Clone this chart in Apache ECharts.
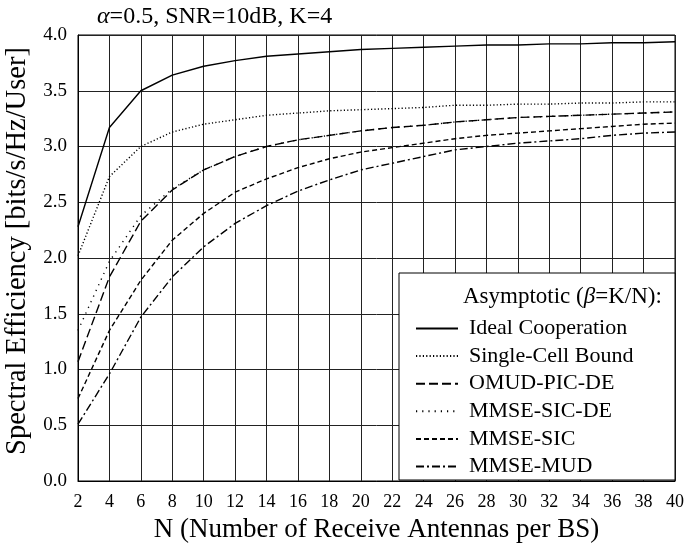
<!DOCTYPE html>
<html>
<head>
<meta charset="utf-8">
<script src="https://cdn.jsdelivr.net/npm/echarts@6/dist/echarts.min.js"></script>
<style>
html,body{margin:0;padding:0;background:#fff;}
#chart{width:685px;height:546px;}
</style>
</head>
<body>
<div id="chart"></div>
<script>
// ---- data ----
const N = [2,4,6,8,10,12,14,16,18,20,22,24,26,28,30,32,34,36,38,40];
const idealCoop   = [2.28,3.17,3.50,3.64,3.72,3.77,3.81,3.83,3.85,3.87,3.88,3.89,3.90,3.91,3.91,3.92,3.92,3.93,3.93,3.94];
const singleCell  = [2.02,2.73,3.00,3.13,3.20,3.24,3.28,3.30,3.32,3.33,3.34,3.35,3.37,3.37,3.38,3.38,3.39,3.39,3.40,3.40];
const omudPicDe   = [1.07,1.83,2.33,2.61,2.79,2.91,3.00,3.06,3.10,3.14,3.17,3.19,3.22,3.24,3.26,3.27,3.28,3.29,3.30,3.31];
const mmseSicDe   = [1.35,1.97,2.38,2.62,2.79,2.91,3.00,3.06,3.10,3.14,3.17,3.19,3.22,3.24,3.26,3.27,3.28,3.29,3.30,3.31];
const mmseSic     = [0.74,1.35,1.80,2.16,2.40,2.59,2.71,2.81,2.89,2.95,2.99,3.03,3.07,3.10,3.12,3.14,3.16,3.18,3.20,3.21];
const mmseMud     = [0.51,0.96,1.47,1.83,2.10,2.31,2.47,2.60,2.70,2.79,2.85,2.91,2.97,3.00,3.03,3.05,3.07,3.10,3.12,3.13];
const seriesNames = ['Ideal Cooperation','Single-Cell Bound','OMUD-PIC-DE','MMSE-SIC-DE','MMSE-SIC','MMSE-MUD'];
const yTicks = ['0.0','0.5','1.0','1.5','2.0','2.5','3.0','3.5','4.0'];

const FONT = '"Liberation Serif","Times New Roman",serif';
const dashes = ['solid',[1.2,2.2],[9,4],[1.2,5],[5,3],[8,3,2,3]];
const values = [idealCoop,singleCell,omudPicDe,mmseSicDe,mmseSic,mmseMud];

const chart = echarts.init(document.getElementById('chart'));
const gridL = 78, gridR = 10, gridT = 35, gridB = 65;

chart.setOption({
  backgroundColor: '#fff',
  animation: false,
  title: {
    text: '{a|α}=0.5, SNR=10dB, K=4',
    left: 92, top: 0,
    textStyle: {
      fontFamily: FONT, fontSize: 24, fontWeight: 'normal', color: '#000',
      rich: { a: { fontFamily: FONT, fontSize: 24, fontStyle: 'italic', color: '#000' } }
    }
  },
  grid: { left: gridL, right: gridR, top: gridT, bottom: gridB, show: true,
    borderColor: '#000', borderWidth: 1, containLabel: false, outerBoundsMode: 'none' },
  xAxis: {
    type: 'value', min: 2, max: 40, interval: 2,
    name: 'N (Number of Receive Antennas per BS)',
    nameLocation: 'middle', nameGap: 35,
    nameTextStyle: { fontFamily: FONT, fontSize: 27, color: '#000' },
    axisLine: { lineStyle: { color: '#000' } },
    axisTick: { show: false },
    axisLabel: { fontFamily: FONT, fontSize: 18, color: '#000', margin: 12 },
    splitLine: { show: true, lineStyle: { color: '#222', width: 1 } }
  },
  yAxis: {
    type: 'value', min: 0, max: 4, interval: 0.5,
    name: 'Spectral Efficiency [bits/s/Hz/User]',
    nameLocation: 'middle', nameGap: 46,
    nameTextStyle: { fontFamily: FONT, fontSize: 28.5, color: '#000', padding: [0, 0, 0, 14] },
    axisLine: { show: true, lineStyle: { color: '#000' } },
    axisTick: { show: false },
    axisLabel: { fontFamily: FONT, fontSize: 19, color: '#000', margin: 11,
      formatter: v => yTicks[Math.round(v * 2)] },
    splitLine: { show: true, lineStyle: { color: '#222', width: 1 } }
  },
  legend: {
    orient: 'vertical',
    left: 410, top: 312,
    itemWidth: 42, itemHeight: 14, itemGap: 4.6,
    data: seriesNames,
    itemStyle: { opacity: 0 },
    textStyle: { fontFamily: FONT, fontSize: 22, color: '#000', lineHeight: 23, padding: [0,0,0,6] },
    z: 10
  },
  graphic: [
    { type: 'rect', z: 5, shape: { x: 399, y: 273, width: 276, height: 207 },
      style: { fill: '#fff', stroke: '#000', lineWidth: 1 } },
    { type: 'text', z: 6, left: 463, top: 285,
      style: { text: 'Asymptotic ({b|β}=K/N):', font: '23px ' + FONT, fill: '#000',
        rich: { b: { fontStyle: 'italic', fontFamily: FONT, fontSize: 23, fill: '#000' } } } }
  ],
  series: seriesNames.map((name, i) => ({
    name: name,
    type: 'line',
    data: N.map((n, j) => [n, values[i][j]]),
    symbol: 'none',
    smooth: false,
    lineStyle: { color: '#000', width: 1.4, type: dashes[i] },
    itemStyle: { color: '#000' },
    z: 3
  }))
});
</script>
</body>
</html>
